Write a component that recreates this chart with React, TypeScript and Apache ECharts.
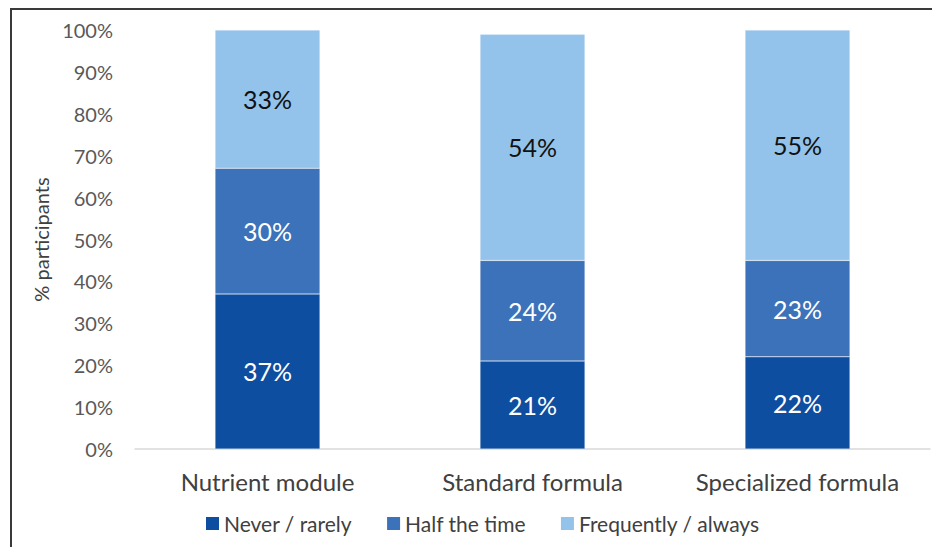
import React, { useEffect, useRef } from "react";
import * as echarts from "echarts";

const categories = ["Nutrient module", "Standard formula", "Specialized formula"];
const seriesNames = ["Never / rarely", "Half the time", "Frequently / always"];
const neverRarely = [37, 21, 22];
const halfTime = [30, 24, 23];
const frequently = [33, 54, 55];
const yTicks = [0, 10, 20, 30, 40, 50, 60, 70, 80, 90, 100];

const colors = ["#0D4EA1", "#3B72BA", "#93C3EA"];
const labelColors = ["#ffffff", "#ffffff", "#111111"];
const FONT = "Lato, 'Noto Sans', sans-serif";

export default function App() {
  const ref = useRef<HTMLDivElement>(null);
  useEffect(() => {
    if (!ref.current) return;
    const chart = echarts.init(ref.current, null, { renderer: "svg" });
    const data = [neverRarely, halfTime, frequently];
    chart.setOption({
      animation: false,
      backgroundColor: "#ffffff",
      textStyle: { fontFamily: FONT },
      grid: { left: 135, right: 2, top: 30, bottom: 98, containLabel: false },
      legend: {
        data: seriesNames,
        top: 508,
        left: 201,
        icon: "rect",
        itemWidth: 13,
        itemHeight: 13,
        itemGap: 35,
        itemStyle: { borderWidth: 0 },
        textStyle: { fontSize: 21, color: "#404040", fontFamily: FONT },
      },
      xAxis: {
        type: "category",
        data: categories,
        axisLine: { lineStyle: { color: "#D9D9D9", width: 1.5 } },
        axisTick: { show: false },
        axisLabel: { fontSize: 24, color: "#404040", margin: 20, fontFamily: FONT },
      },
      yAxis: {
        type: "value",
        min: yTicks[0],
        max: yTicks[yTicks.length - 1],
        interval: 10,
        name: "% participants",
        nameLocation: "middle",
        nameRotate: 90,
        nameGap: 77,
        nameTextStyle: { fontSize: 20, color: "#404040", fontFamily: FONT },
        axisLine: { show: false },
        axisTick: { show: false },
        splitLine: { show: false },
        axisLabel: {
          fontSize: 20,
          color: "#595959",
          margin: 22,
          formatter: "{value}%",
          fontFamily: FONT,
        },
      },
      graphic: [
        {
          type: "polyline",
          shape: { points: [[11, 560], [11, 9], [940, 9]] },
          style: { stroke: "#3a3a3a", lineWidth: 2, fill: "none" },
          silent: true,
        },
      ],
      series: seriesNames.map((name, i) => ({
        name,
        type: "bar",
        stack: "total",
        barWidth: "39.6%",
        data: data[i],
        itemStyle: { color: colors[i], borderColor: "rgba(255,255,255,0.5)", borderWidth: 0.5 },
        label: {
          show: true,
          position: "inside",
          formatter: "{c}%",
          fontSize: 25,
          color: labelColors[i],
          fontFamily: FONT,
        },
      })),
    });
    return () => chart.dispose();
  }, []);
  return (
    <div
      ref={ref}
      style={{ position: "fixed", left: 0, top: 0, width: 932, height: 547 }}
    />
  );
}
